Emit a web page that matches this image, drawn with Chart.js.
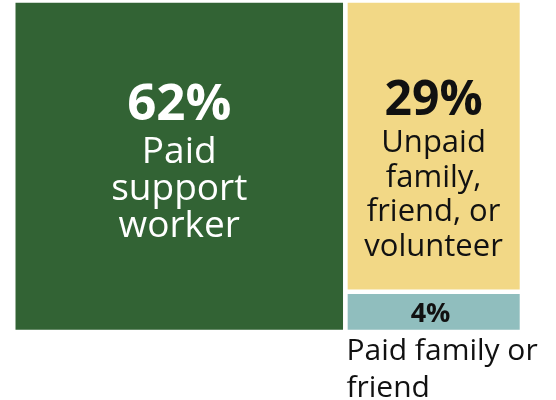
<!DOCTYPE html>
<html>
<head>
<meta charset="utf-8">
<script src="https://cdn.jsdelivr.net/npm/chart.js@4.4.1/dist/chart.umd.min.js"></script>
<style>
    html, body { margin: 0; padding: 0; background: #fff; }
    canvas { display: block; }
</style>
</head>
<body>
<canvas id="careChart" width="556" height="400"></canvas>
<script>
// Who provides the support (share of respondents)
const categories = ['Paid support worker', 'Unpaid family, friend, or volunteer', 'Paid family or friend'];
const shares = [62, 29, 4];
const pctLabels = ['62%', '29%', '4%'];
// label text broken into lines as in the original
const nameLines = [
    ['Paid', 'support', 'worker'],
    ['Unpaid', 'family,', 'friend, or', 'volunteer'],
    ['Paid family or', 'friend']
];
const colors = ['#326334', '#f2d886', '#90bebe'];

const FONT = '"Open Sans", "Noto Sans", sans-serif';
const GAP = 4.4;

// Simple two-column treemap: biggest share on the left, the rest stacked on the right
const total = shares.reduce((a, b) => a + b, 0);
const rightTotal = shares[1] + shares[2];
const rects = [
    { x0: 0, x1: shares[0], y0: 0, y1: rightTotal },
    { x0: shares[0], x1: total, y0: shares[2], y1: rightTotal },
    { x0: shares[0], x1: total, y0: 0, y1: shares[2] }
];

const rectPoints = r => [
    { x: r.x0, y: r.y0 }, { x: r.x0, y: r.y1 }, { x: r.x1, y: r.y1 },
    { x: r.x1, y: r.y0 }, { x: r.x0, y: r.y0 }
];

const datasets = rects.map((r, i) => ({
    label: categories[i],
    data: rectPoints(r),
    backgroundColor: colors[i],
    borderColor: '#ffffff',
    borderWidth: GAP,
    borderJoinStyle: 'miter',
    borderCapStyle: 'square',
    fill: 'shape',
    pointRadius: 0,
    tension: 0,
    clip: false
}));

const boxStyles = [
    { color: '#ffffff', pctSize: 51, nameSize: 37, pctBase: 119.5, firstGap: 43, lineH: 37 },
    { color: '#111111', pctSize: 48, nameSize: 31, pctBase: 114.5, firstGap: 37, lineH: 34.5 }
];

const boxLabels = {
    id: 'boxLabels',
    afterDatasetsDraw(chart) {
        const { ctx, scales: { x, y } } = chart;
        ctx.save();
        rects.forEach((r, i) => {
            const left = x.getPixelForValue(r.x0), right = x.getPixelForValue(r.x1);
            const top = y.getPixelForValue(r.y1), bottom = y.getPixelForValue(r.y0);
            const cx = (left + right) / 2;
            if (i < 2) {
                const s = boxStyles[i];
                ctx.fillStyle = s.color;
                ctx.textAlign = 'center';
                ctx.textBaseline = 'alphabetic';
                ctx.font = `bold ${s.pctSize}px ${FONT}`;
                const base = top + s.pctBase;
                ctx.fillText(pctLabels[i], cx, base);
                ctx.font = `${s.nameSize}px ${FONT}`;
                nameLines[i].forEach((line, j) => {
                    ctx.fillText(line, cx, base + s.firstGap + j * s.lineH);
                });
            } else {
                // small box: value inside, name underneath
                const cy = (top + bottom) / 2;
                ctx.fillStyle = '#111111';
                ctx.textAlign = 'center';
                ctx.textBaseline = 'alphabetic';
                ctx.font = `bold 27px ${FONT}`;
                ctx.fillText(pctLabels[i], cx - 3, cy + 10);
                ctx.textAlign = 'left';
                ctx.font = `30px ${FONT}`;
                nameLines[i].forEach((line, j) => {
                    ctx.fillText(line, left + GAP / 2 - 1, bottom + 28 + j * 37.5);
                });
            }
        });
        ctx.restore();
    }
};

new Chart(document.getElementById('careChart').getContext('2d'), {
    type: 'line',
    data: { datasets },
    options: {
        responsive: false,
        animation: false,
        events: [],
        layout: { padding: { left: 13.3, right: 34.1, top: 0.5, bottom: 68.1 } },
        scales: {
            x: { type: 'linear', min: 0, max: total, display: false },
            y: { type: 'linear', min: 0, max: rightTotal, display: false }
        },
        plugins: {
            legend: { display: false },
            tooltip: { enabled: false }
        }
    },
    plugins: [boxLabels]
});
</script>
</body>
</html>
